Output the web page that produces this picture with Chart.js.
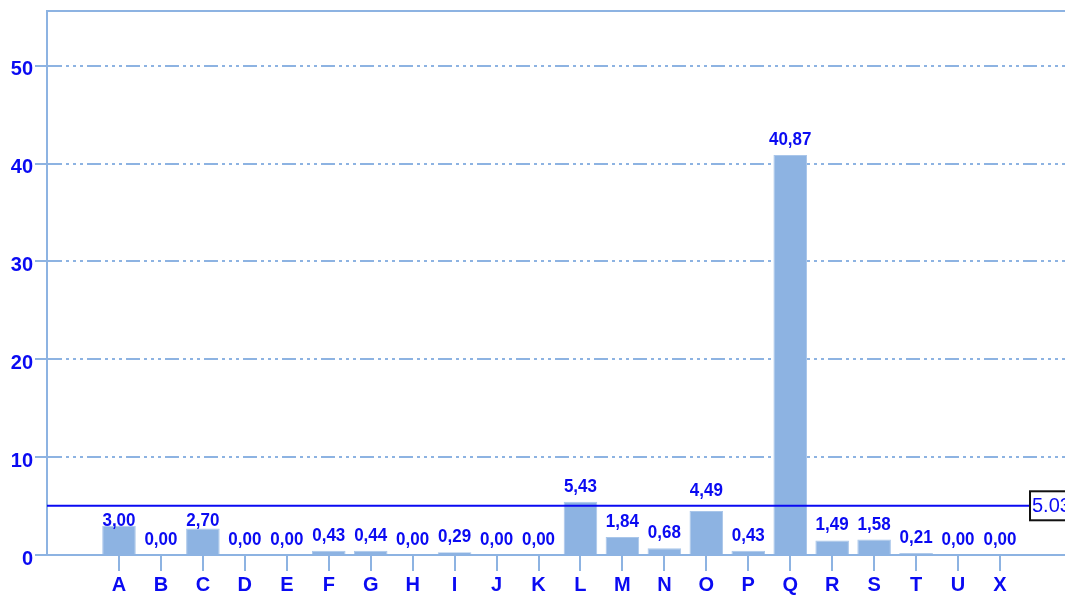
<!DOCTYPE html>
<html><head><meta charset="utf-8">
<script src="https://cdn.jsdelivr.net/npm/chart.js@4"></script>
<style>html,body{margin:0;padding:0;background:#fff;overflow:hidden}</style>
</head><body>
<canvas id="c" width="1065" height="599"></canvas>
<script>
const categories = ['A','B','C','D','E','F','G','H','I','J','K','L','M','N','O','P','Q','R','S','T','U','X'];
const values = [3.00,0.00,2.70,0.00,0.00,0.43,0.44,0.00,0.29,0.00,0.00,5.43,1.84,0.68,4.49,0.43,40.87,1.49,1.58,0.21,0.00,0.00];
const averageValue = 5.03;
const averageLabel = '5.03';
const yTickValues = [0,10,20,30,40,50];
const yMax = 55.6;
const xMin = -1.716, xMax = 22.55;

const FONT = '"Liberation Sans", Arial, sans-serif';
const BLUE = '#0a0af2';
const LIGHT = '#8db3e2';

const labelPlugin = {
  id: 'labels',
  afterDatasetsDraw(chart) {
    const ctx = chart.ctx;
    const meta = chart.getDatasetMeta(1);
    const yScale = chart.scales.y;
    const lineY = yScale.getPixelForValue(averageValue);
    ctx.save();
    ctx.font = 'bold 17px ' + FONT;
    ctx.fillStyle = BLUE;
    ctx.textAlign = 'center';
    ctx.textBaseline = 'middle';
    meta.data.forEach((el, i) => {
      let cy = el.y - 15;
      if (Math.abs(cy - lineY) < 10) {
        const down = lineY + 15, up = lineY - 15;
        cy = Math.abs(down - cy) <= Math.abs(up - cy) ? down : up;
      }
      ctx.save();
      ctx.translate(el.x, cy);
      ctx.scale(1, 1.08);
      ctx.fillText(values[i].toFixed(2).replace('.', ','), 0, 0);
      ctx.restore();
    });
    // top border
    const a = chart.chartArea;
    ctx.strokeStyle = LIGHT;
    ctx.lineWidth = 2;
    ctx.beginPath();
    ctx.moveTo(a.left - 1, a.top);
    ctx.lineTo(a.right + 2, a.top);
    ctx.stroke();
    // average label box
    const bx = 1030, bh = 29;
    ctx.fillStyle = '#ffffff';
    ctx.fillRect(bx, lineY - bh / 2, 60, bh);
    ctx.strokeStyle = '#111111';
    ctx.lineWidth = 2;
    ctx.strokeRect(bx, lineY - bh / 2, 60, bh);
    ctx.font = '20px ' + FONT;
    ctx.fillStyle = BLUE;
    ctx.textAlign = 'left';
    ctx.fillText(averageLabel, bx + 2, lineY + 1);
    ctx.restore();
  }
};

new Chart(document.getElementById('c'), {
  type: 'bar',
  data: {
    datasets: [
      {
        type: 'line',
        data: [{x: xMin, y: averageValue}, {x: xMax, y: averageValue}],
        borderColor: BLUE,
        borderWidth: 2,
        pointRadius: 0,
        fill: false,
        order: 0
      },
      {
        data: values.map((v, i) => ({x: i, y: v})),
        backgroundColor: LIGHT,
        borderColor: '#a9c6ea',
        borderWidth: 1,
        barPercentage: 0.8,
        categoryPercentage: 1,
        order: 1
      }
    ]
  },
  options: {
    responsive: false,
    animation: false,
    devicePixelRatio: 1,
    layout: {padding: {top: 11, left: 0, right: 0, bottom: 0}},
    plugins: {legend: {display: false}, tooltip: {enabled: false}},
    scales: {
      x: {
        type: 'linear',
        min: xMin, max: xMax,
        offset: false,
        afterBuildTicks: s => { s.ticks = categories.map((c, i) => ({value: i})); },
        afterFit: s => { s.height = 44; s.paddingLeft = 0; s.paddingRight = 0; },
        grid: {display: true, drawOnChartArea: false, drawTicks: true, tickLength: 16, color: LIGHT, tickColor: LIGHT, lineWidth: 2, offset: false},
        border: {display: true, color: LIGHT, width: 2},
        ticks: {
          autoSkip: false, maxRotation: 0, padding: 2,
          color: BLUE, font: {family: FONT, size: 20, weight: 'bold'},
          callback: v => categories[v] !== undefined ? categories[v] : ''
        }
      },
      y: {
        min: 0, max: yMax,
        afterBuildTicks: s => { s.ticks = yTickValues.map(v => ({value: v})); },
        afterFit: s => { s.width = 47; s.paddingTop = 0; s.paddingBottom = 0; },
        grid: {color: LIGHT, lineWidth: 2, tickLength: 12, tickColor: LIGHT, tickBorderDash: [], tickWidth: 2},
        border: {display: true, color: LIGHT, width: 2, dash: [14, 4, 3, 4, 3, 4, 3, 4]},
        ticks: {padding: 2, labelOffset: 4, color: BLUE, font: {family: FONT, size: 20, weight: 'bold'}}
      }
    }
  },
  plugins: [labelPlugin]
});
</script>
</body></html>
